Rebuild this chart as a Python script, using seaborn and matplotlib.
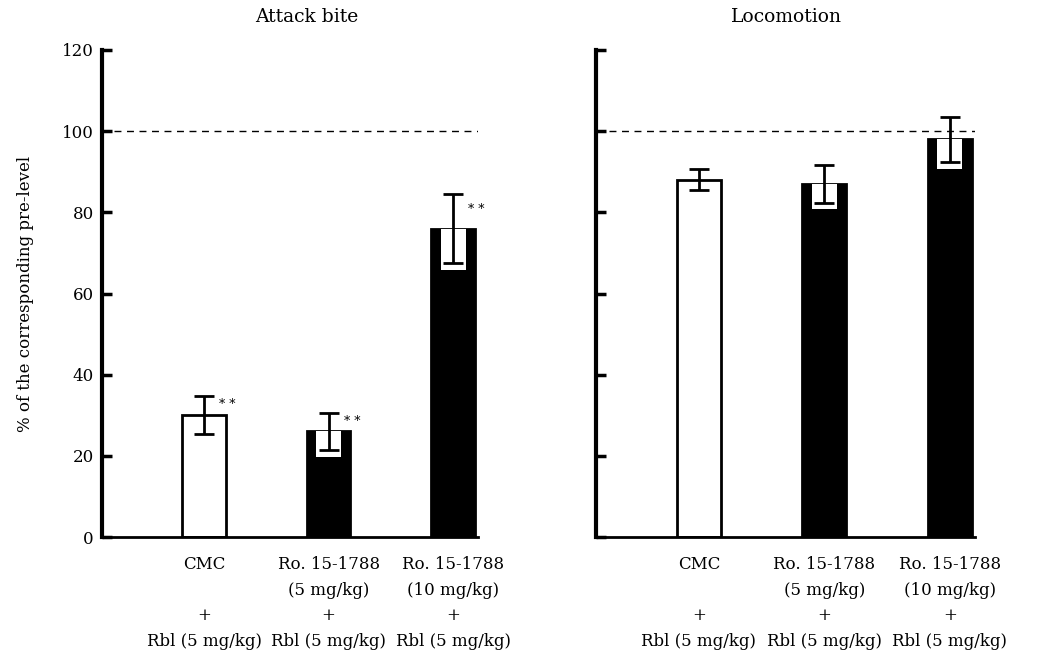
import matplotlib
matplotlib.use("Agg")
import matplotlib.pyplot as plt
import seaborn as sns
import pandas as pd
import numpy as np

sns.set_style("white")
plt.rcParams['font.family'] = ['DejaVu Serif']
plt.rcParams['text.color'] = 'black'
plt.rcParams['axes.labelcolor'] = 'black'
plt.rcParams['xtick.color'] = 'black'
plt.rcParams['ytick.color'] = 'black'
plt.rcParams['axes.edgecolor'] = 'black'

groups = ["CMC\n\n+\nRbl (5 mg/kg)",
          "Ro. 15-1788\n(5 mg/kg)\n+\nRbl (5 mg/kg)",
          "Ro. 15-1788\n(10 mg/kg)\n+\nRbl (5 mg/kg)"]
panels = ["Attack bite", "Locomotion"]
attack_vals = [30, 26, 76]
attack_se = [4.7, 4.6, 8.5]
loco_vals = [88, 87, 98]
loco_se = [2.6, 4.7, 5.6]
attack_sig = ["* *", "* *", "* *"]
loco_sig = ["", "", ""]
bar_colors = ["white", "black", "black"]
yticks = [0, 20, 40, 60, 80, 100, 120]

fig = plt.figure(figsize=(10.43, 6.56), dpi=100)
W, H = 1043, 656
def axes_px(x0, x1, ytop, ybot):
    return fig.add_axes([x0 / W, 1 - ybot / H, (x1 - x0) / W, (ybot - ytop) / H])

ax1 = axes_px(102, 478, 50, 537)
ax2 = axes_px(596, 975, 50, 537)

for ax, vals, ses, sig, title, tx in [(ax1, attack_vals, attack_se, attack_sig, panels[0], 307),
                                      (ax2, loco_vals, loco_se, loco_sig, panels[1], 786)]:
    df = pd.DataFrame({"group": groups, "value": vals})
    sns.barplot(data=df, x="group", y="value", hue="group", palette=bar_colors,
                edgecolor="black", linewidth=2, width=0.35, errorbar=None,
                legend=False, ax=ax, zorder=2)
    xs = np.arange(len(vals))
    # white notch inside dark bars around lower error bar
    for xi, v, s, c in zip(xs, vals, ses, bar_colors):
        if c == "black":
            ax.bar(xi, s + 1.6, bottom=v - s - 1.6, width=0.2, color="white",
                   edgecolor="none", zorder=3)
    ax.errorbar(xs, vals, yerr=ses, fmt="none", ecolor="black", elinewidth=2,
                capsize=7, capthick=2, zorder=4)
    for xi, v, s, st in zip(xs, vals, ses, sig):
        if st:
            ax.text(xi + 0.12, v + s * 0.55, st, fontsize=9, ha="left", va="center")
    ax.plot([-0.72, 2.2], [100, 100], ls=(0, (5, 4)), color="black", lw=1, zorder=1)
    ax.set_xlim(-0.82, 2.2)
    ax.set_ylim(0, 120)
    ax.set_yticks(yticks)
    ax.tick_params(axis="y", direction="in", length=7, width=2.5, labelsize=12, pad=6, left=True)
    ax.tick_params(axis="x", length=0, labelsize=12, pad=14)
    for lab in ax.get_xticklabels():
        lab.set_linespacing(1.65)
    ax.spines["top"].set_visible(False)
    ax.spines["right"].set_visible(False)
    ax.spines["left"].set_linewidth(3)
    ax.spines["bottom"].set_linewidth(2)
    ax.set_xlabel("")
    ax.set_ylabel("")
    fig.text(tx / W, 1 - 17 / H, title, ha="center", va="center", fontsize=13.5)

ax2.set_yticklabels([])
ax1.set_ylabel("% of the corresponding pre-level", fontsize=12, labelpad=20)

fig.savefig("out.png", dpi=100, facecolor="white")
